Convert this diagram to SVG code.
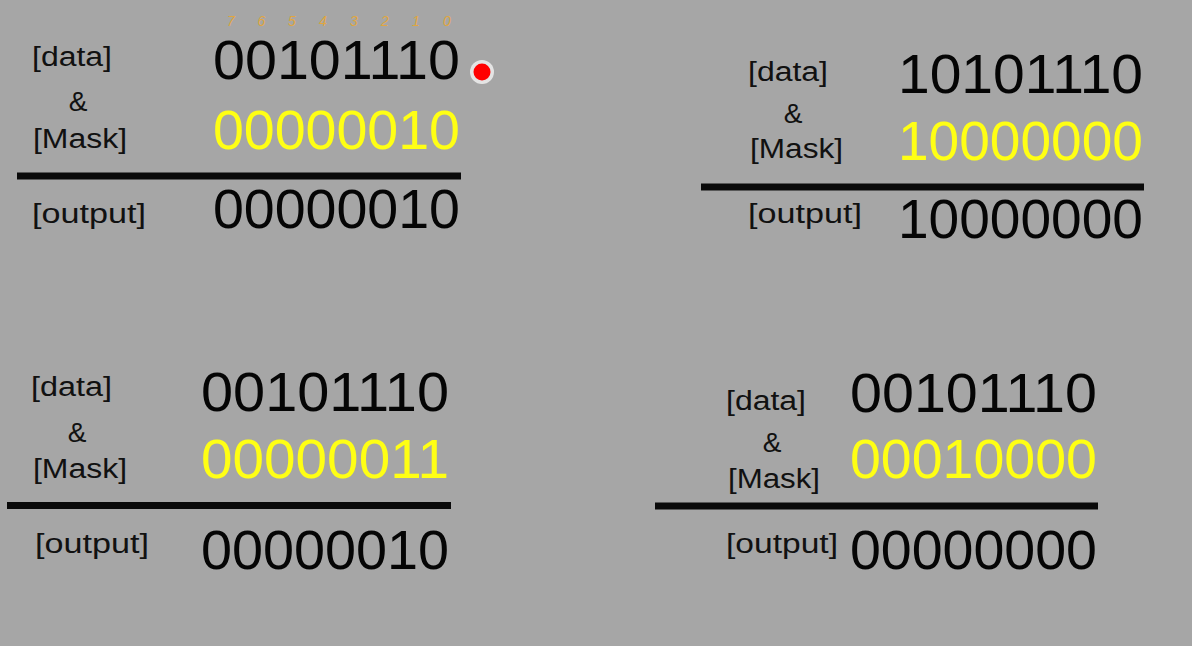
<svg xmlns="http://www.w3.org/2000/svg" width="1192" height="646" viewBox="0 0 1192 646">
<style>
.lbl{font-family:"Liberation Sans",Arial,sans-serif;font-size:27px;fill:#111}
.amp{font-family:"Liberation Sans",Arial,sans-serif;font-size:28px;fill:#111;text-anchor:middle}
.dig{font-family:"Liberation Sans",Arial,sans-serif;font-size:55px;fill:#050505}
.msk{font-family:"Liberation Sans",Arial,sans-serif;font-size:55px;fill:#ffff14}
.bar{stroke:#0a0a0a;stroke-width:7}
.bit{font-family:"Liberation Sans",Arial,sans-serif;font-size:14px;font-style:italic;fill:#e0a640;text-anchor:middle}
</style>
<rect width="1192" height="646" fill="#a6a6a6"/>

<g id="bit-index">
<text class="bit" x="231" y="26">7</text>
<text class="bit" x="261.5" y="26">6</text>
<text class="bit" x="292" y="26">5</text>
<text class="bit" x="323" y="26">4</text>
<text class="bit" x="354" y="26">3</text>
<text class="bit" x="385" y="26">2</text>
<text class="bit" x="416" y="26">1</text>
<text class="bit" x="447" y="26">0</text>
</g>

<g id="pointer">
<circle cx="482" cy="72" r="12" fill="#ffffff" fill-opacity="0.7"/>
<circle cx="482" cy="72" r="8.5" fill="#ff0000"/>
</g>

<g id="panel-top-left">
<text class="lbl" x="32" y="66" textLength="80" lengthAdjust="spacingAndGlyphs">[data]</text>
<text class="amp" x="78" y="111">&amp;</text>
<text class="lbl" x="33" y="148" textLength="94" lengthAdjust="spacingAndGlyphs">[Mask]</text>
<line class="bar" x1="17" y1="176" x2="461" y2="176"/>
<text class="lbl" x="32" y="223" textLength="114" lengthAdjust="spacingAndGlyphs">[output]</text>
<text class="dig" x="213" y="79" textLength="247" lengthAdjust="spacingAndGlyphs">00101110</text>
<text class="msk" x="213" y="149" textLength="247" lengthAdjust="spacingAndGlyphs">00000010</text>
<text class="dig" x="213" y="228" textLength="247" lengthAdjust="spacingAndGlyphs">00000010</text>
</g>

<g id="panel-top-right">
<text class="lbl" x="748" y="81" textLength="80" lengthAdjust="spacingAndGlyphs">[data]</text>
<text class="amp" x="793" y="123">&amp;</text>
<text class="lbl" x="750" y="158" textLength="93" lengthAdjust="spacingAndGlyphs">[Mask]</text>
<line class="bar" x1="701" y1="187" x2="1144" y2="187"/>
<text class="lbl" x="748" y="223" textLength="114" lengthAdjust="spacingAndGlyphs">[output]</text>
<text class="dig" x="898" y="93" textLength="245" lengthAdjust="spacingAndGlyphs">10101110</text>
<text class="msk" x="898" y="160" textLength="245" lengthAdjust="spacingAndGlyphs">10000000</text>
<text class="dig" x="898" y="238" textLength="245" lengthAdjust="spacingAndGlyphs">10000000</text>
</g>

<g id="panel-bottom-left">
<text class="lbl" x="31" y="396" textLength="81" lengthAdjust="spacingAndGlyphs">[data]</text>
<text class="amp" x="77" y="442">&amp;</text>
<text class="lbl" x="33" y="478" textLength="94" lengthAdjust="spacingAndGlyphs">[Mask]</text>
<line class="bar" x1="7" y1="505.5" x2="451" y2="505.5"/>
<text class="lbl" x="35" y="553" textLength="114" lengthAdjust="spacingAndGlyphs">[output]</text>
<text class="dig" x="201" y="411" textLength="248" lengthAdjust="spacingAndGlyphs">00101110</text>
<text class="msk" x="201" y="478" textLength="248" lengthAdjust="spacingAndGlyphs">00000011</text>
<text class="dig" x="201" y="569" textLength="248" lengthAdjust="spacingAndGlyphs">00000010</text>
</g>

<g id="panel-bottom-right">
<text class="lbl" x="726" y="410" textLength="80" lengthAdjust="spacingAndGlyphs">[data]</text>
<text class="amp" x="772" y="452">&amp;</text>
<text class="lbl" x="728" y="488" textLength="92" lengthAdjust="spacingAndGlyphs">[Mask]</text>
<line class="bar" x1="655" y1="506" x2="1098" y2="506"/>
<text class="lbl" x="726" y="553" textLength="112" lengthAdjust="spacingAndGlyphs">[output]</text>
<text class="dig" x="850" y="412" textLength="247" lengthAdjust="spacingAndGlyphs">00101110</text>
<text class="msk" x="850" y="478" textLength="247" lengthAdjust="spacingAndGlyphs">00010000</text>
<text class="dig" x="850" y="569" textLength="247" lengthAdjust="spacingAndGlyphs">00000000</text>
</g>
</svg>
